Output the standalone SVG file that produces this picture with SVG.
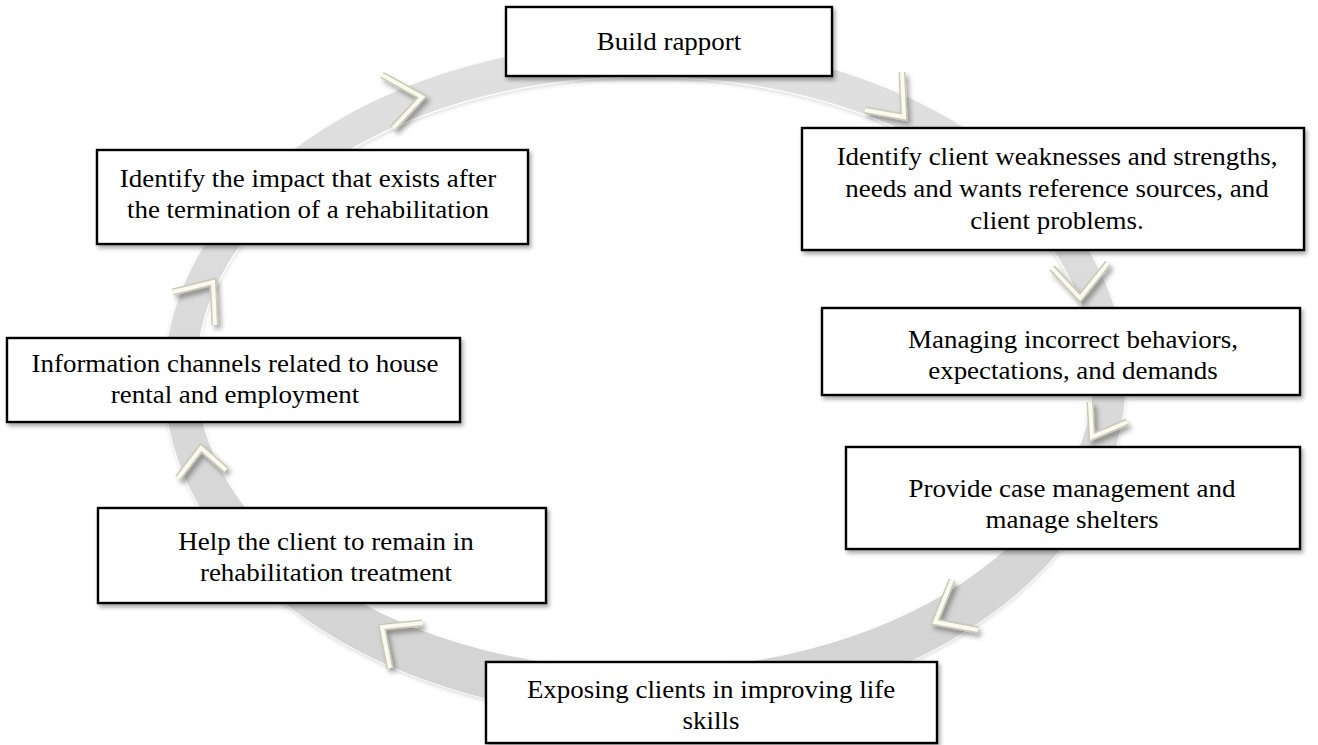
<svg xmlns="http://www.w3.org/2000/svg" width="1318" height="745" viewBox="0 0 1318 745">
<defs>
<style>
.box{fill:#fff;stroke:#000;stroke-width:2.4;filter:url(#bs)}
.t{font-family:"Liberation Serif","Times New Roman",serif;font-size:24.5px;fill:#000;text-anchor:middle}
.chev-s{fill:none;stroke:#cbc8b4;stroke-width:7;stroke-linejoin:miter;stroke-linecap:butt}
.chev{fill:none;stroke:#fbfaf1;stroke-width:4;stroke-linejoin:miter;stroke-linecap:butt}
</style>
<filter id="bs" x="-10%" y="-10%" width="125%" height="130%">
<feDropShadow dx="2" dy="3" stdDeviation="2" flood-color="#000" flood-opacity="0.35"/>
</filter>
<filter id="cs" x="-30%" y="-30%" width="170%" height="170%">
<feDropShadow dx="3" dy="4" stdDeviation="2.5" flood-color="#000" flood-opacity="0.35"/>
</filter>
<filter id="rs" x="-5%" y="-5%" width="110%" height="110%">
<feDropShadow dx="0" dy="2" stdDeviation="2" flood-color="#000" flood-opacity="0.15"/>
</filter>
<linearGradient id="rg" x1="0" y1="0" x2="0" y2="1">
<stop offset="0" stop-color="#e0e0e0"/>
<stop offset="1" stop-color="#d3d3d3"/>
</linearGradient>
</defs>
<rect width="1318" height="745" fill="#fff"/>
<g id="connectors">
<path id="ring" d="M164,380 A481,338 0 1,0 1126,380 A481,338 0 1,0 164,380 Z M197,373 A448,296 0 1,0 1093,373 A448,296 0 1,0 197,373 Z" fill="url(#rg)" fill-rule="evenodd" filter="url(#rs)"/>
<ellipse cx="645" cy="373" rx="448" ry="296" fill="none" stroke="#fff" stroke-width="1.5" opacity="0.9"/>
<ellipse cx="645" cy="380" rx="481" ry="338" fill="none" stroke="#fff" stroke-width="1.2" opacity="0.7"/>
<g filter="url(#cs)">
<polyline class="chev-s" points="382,75 422,97 393,128"/>
<polyline class="chev" points="382,75 422,97 393,128"/>
<polyline class="chev-s" points="902,72 904,117 865,110"/>
<polyline class="chev" points="902,72 904,117 865,110"/>
<polyline class="chev-s" points="1052,268 1080,298 1108,263"/>
<polyline class="chev" points="1052,268 1080,298 1108,263"/>
<polyline class="chev-s" points="1090,402 1092,437 1127,422"/>
<polyline class="chev" points="1090,402 1092,437 1127,422"/>
<polyline class="chev-s" points="952,580 935,622 978,630"/>
<polyline class="chev" points="952,580 935,622 978,630"/>
<polyline class="chev-s" points="422,623 382,627 390,668"/>
<polyline class="chev" points="422,623 382,627 390,668"/>
<polyline class="chev-s" points="178,478 201,448 226,470"/>
<polyline class="chev" points="178,478 201,448 226,470"/>
<polyline class="chev-s" points="173,292 213,282 215,325"/>
<polyline class="chev" points="173,292 213,282 215,325"/>
</g>
</g>
<g id="n1">
<rect class="box" x="506" y="7" width="326" height="69"/>
<g transform="translate(669 0) scale(1.1 1)"><text class="t" x="0" y="50">Build rapport</text></g>
</g>
<g id="n2">
<rect class="box" x="802" y="128" width="502" height="122"/>
<g transform="translate(1057 0) scale(1.1 1)">
<text class="t" x="0" y="165">Identify client weaknesses and strengths,</text>
<text class="t" x="0" y="197">needs and wants reference sources, and</text>
<text class="t" x="0" y="229">client problems.</text>
</g>
</g>
<g id="n3">
<rect class="box" x="822" y="308" width="478" height="87"/>
<g transform="translate(1073 0) scale(1.1 1)">
<text class="t" x="0" y="348">Managing incorrect behaviors,</text>
<text class="t" x="0" y="379">expectations, and demands</text>
</g>
</g>
<g id="n4">
<rect class="box" x="846" y="447" width="454" height="102"/>
<g transform="translate(1072 0) scale(1.1 1)">
<text class="t" x="0" y="497">Provide case management and</text>
<text class="t" x="0" y="528">manage shelters</text>
</g>
</g>
<g id="n5">
<rect class="box" x="486" y="662" width="451" height="81"/>
<g transform="translate(711 0) scale(1.1 1)">
<text class="t" x="0" y="698">Exposing clients in improving life</text>
<text class="t" x="0" y="729">skills</text>
</g>
</g>
<g id="n6">
<rect class="box" x="98" y="508" width="448" height="95"/>
<g transform="translate(326 0) scale(1.1 1)">
<text class="t" x="0" y="550">Help the client to remain in</text>
<text class="t" x="0" y="581">rehabilitation treatment</text>
</g>
</g>
<g id="n7">
<rect class="box" x="7" y="338" width="453" height="84"/>
<g transform="translate(235 0) scale(1.1 1)">
<text class="t" x="0" y="372">Information channels related to house</text>
<text class="t" x="0" y="403">rental and employment</text>
</g>
</g>
<g id="n8">
<rect class="box" x="97" y="150" width="431" height="94"/>
<g transform="translate(308 0) scale(1.1 1)">
<text class="t" x="0" y="187">Identify the impact that exists after</text>
<text class="t" x="0" y="218">the termination of a rehabilitation</text>
</g>
</g>
</svg>
